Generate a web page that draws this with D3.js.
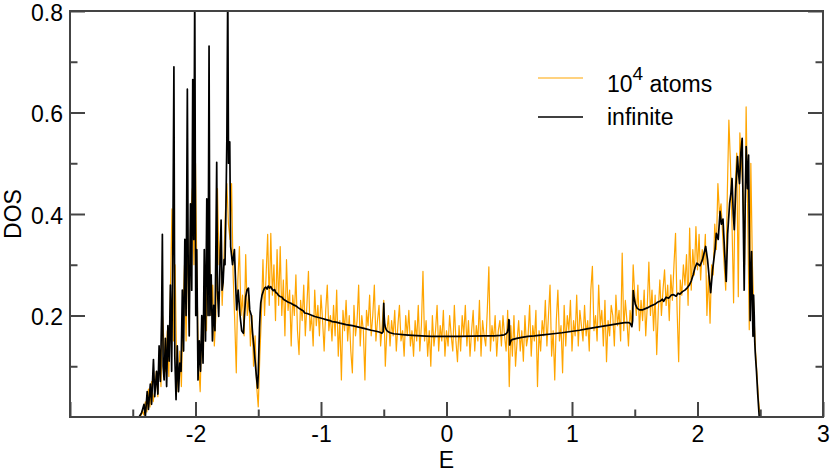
<!DOCTYPE html>
<html>
<head>
<meta charset="utf-8">
<script src="https://cdn.jsdelivr.net/npm/d3@7"></script>
<style>
  body { margin: 0; background: #fff; }
  svg { display: block; font-family: 'Liberation Sans', Arial, sans-serif; }
  .axis text { font-size: 23px; fill: #000; }
  .axis line { stroke: #444; stroke-width: 2; }
  .axis-label, .legend-text { font-size: 23px; fill: #000; }
</style>
</head>
<body>
<div id="chart"></div>
<script>
// finite cluster (10^4 atoms): histogram on a regular energy grid
const atomsStart = -2.5;
const atomsStep = 0.0125;
const atomsDOS = [
  0, 0, 0, 0, 0, 0, 0.012, 0.004,
  0.03, 0.01, 0.055, 0.02, 0.07, 0.03, 0.05, 0.09,
  0.04, 0.12, 0.06, 0.2, 0.14, 0.09, 0.17, 0.08,
  0.25, 0.41, 0.15, 0.3, 0.1, 0.05, 0.13, 0.06,
  0.2, 0.3, 0.15, 0.35, 0.22, 0.4, 0.45, 0.3,
  0.5, 0.25, 0.1, 0.05, 0.18, 0.12, 0.3, 0.17,
  0.4, 0.3, 0.2, 0.26, 0.14, 0.2, 0.45, 0.3,
  0.35, 0.22, 0.3, 0.4, 0.46, 0.38, 0.35, 0.46,
  0.28, 0.19, 0.087, 0.27, 0.336, 0.2, 0.24, 0.16,
  0.32, 0.2, 0.24, 0.14, 0.2, 0.1, 0.16, 0.06,
  0.02, 0.12, 0.2, 0.31, 0.2, 0.28, 0.36, 0.22,
  0.362, 0.24, 0.3, 0.19, 0.33, 0.22, 0.336, 0.2,
  0.27, 0.16, 0.31, 0.21, 0.25, 0.14, 0.24, 0.2,
  0.28, 0.17, 0.123, 0.23, 0.19, 0.26, 0.16, 0.22,
  0.287, 0.17, 0.2, 0.14, 0.25, 0.18, 0.22, 0.16,
  0.24, 0.19, 0.13, 0.21, 0.26, 0.17, 0.2, 0.15,
  0.22, 0.16, 0.25, 0.12, 0.19, 0.073, 0.21, 0.17,
  0.23, 0.15, 0.2, 0.13, 0.087, 0.22, 0.16, 0.19,
  0.26, 0.14, 0.2, 0.17, 0.073, 0.21, 0.18, 0.24,
  0.16, 0.2, 0.26, 0.15, 0.19, 0.22, 0.14, 0.18,
  0.23, 0.1, 0.17, 0.2, 0.14, 0.19, 0.16, 0.21,
  0.13, 0.18, 0.22, 0.15, 0.17, 0.12, 0.2, 0.16,
  0.21, 0.14, 0.17, 0.12, 0.19, 0.15, 0.22, 0.13,
  0.18, 0.287, 0.15, 0.19, 0.12, 0.17, 0.1, 0.2,
  0.14, 0.17, 0.22, 0.13, 0.18, 0.15, 0.21, 0.12,
  0.17, 0.14, 0.2, 0.16, 0.13, 0.22, 0.15, 0.109,
  0.18, 0.13, 0.2, 0.16, 0.22, 0.14, 0.19, 0.12,
  0.17, 0.21, 0.13, 0.18, 0.15, 0.23, 0.12, 0.19,
  0.16, 0.14, 0.21, 0.296, 0.13, 0.18, 0.15, 0.2,
  0.12, 0.17, 0.19, 0.14, 0.2, 0.16, 0.13, 0.21,
  0.06, 0.18, 0.12, 0.2, 0.1, 0.15, 0.19, 0.13,
  0.17, 0.11, 0.2, 0.14, 0.16, 0.22, 0.12, 0.18,
  0.15, 0.21, 0.06, 0.17, 0.13, 0.19, 0.16, 0.23,
  0.14, 0.2, 0.26, 0.12, 0.17, 0.073, 0.19, 0.25,
  0.15, 0.18, 0.087, 0.22, 0.14, 0.2, 0.17, 0.23,
  0.13, 0.19, 0.16, 0.24, 0.14, 0.21, 0.18, 0.15,
  0.22, 0.16, 0.19, 0.13, 0.25, 0.297, 0.17, 0.2,
  0.15, 0.26, 0.18, 0.21, 0.14, 0.23, 0.109, 0.19,
  0.16, 0.22, 0.2, 0.14, 0.24, 0.18, 0.21, 0.15,
  0.323, 0.17, 0.23, 0.19, 0.14, 0.21, 0.18, 0.3,
  0.24, 0.2, 0.26, 0.17, 0.23, 0.19, 0.25, 0.16,
  0.22, 0.305, 0.2, 0.25, 0.17, 0.24, 0.123, 0.21,
  0.27, 0.2, 0.25, 0.29, 0.22, 0.26, 0.19, 0.28,
  0.23, 0.3, 0.362, 0.21, 0.109, 0.27, 0.24, 0.3,
  0.26, 0.32, 0.22, 0.372, 0.25, 0.33, 0.28, 0.375,
  0.29, 0.36, 0.27, 0.33, 0.3, 0.36, 0.2, 0.28,
  0.185, 0.3, 0.28, 0.38, 0.33, 0.46, 0.4, 0.42,
  0.36, 0.3, 0.25, 0.44, 0.585, 0.5, 0.38, 0.225,
  0.45, 0.52, 0.237, 0.56, 0.5, 0.44, 0.3, 0.611,
  0.4, 0.172, 0.5, 0.3, 0.2, 0.13, 0.08, 0.03,
  0
];

// infinite system: [E, DOS]
const infiniteDOS = [
  [-2.45, 0], [-2.43, 0.008], [-2.41, 0.025], [-2.40, 0.0], [-2.385, 0.05], [-2.375, 0.015],
  [-2.36, 0.065], [-2.35, 0.025], [-2.335, 0.113], [-2.325, 0.04], [-2.31, 0.09], [-2.30, 0.045],
  [-2.29, 0.14], [-2.28, 0.07], [-2.27, 0.2], [-2.264, 0.36], [-2.258, 0.1], [-2.25, 0.073],
  [-2.24, 0.155], [-2.23, 0.06], [-2.22, 0.18], [-2.21, 0.11], [-2.20, 0.26], [-2.19, 0.09],
  [-2.18, 0.35], [-2.172, 0.69], [-2.165, 0.12], [-2.155, 0.034], [-2.145, 0.14], [-2.135, 0.05],
  [-2.125, 0.106], [-2.115, 0.09], [-2.105, 0.25], [-2.095, 0.13], [-2.085, 0.35], [-2.075, 0.2],
  [-2.065, 0.646], [-2.058, 0.28], [-2.05, 0.16], [-2.04, 0.42], [-2.03, 0.25], [-2.022, 0.665],
  [-2.014, 0.35], [-2.006, 0.85], [-1.998, 0.2], [-1.99, 0.33], [-1.98, 0.073], [-1.97, 0.15],
  [-1.96, 0.09], [-1.95, 0.2], [-1.94, 0.106], [-1.93, 0.33], [-1.92, 0.15], [-1.91, 0.43],
  [-1.90, 0.2], [-1.892, 0.731], [-1.885, 0.2], [-1.875, 0.28], [-1.865, 0.15], [-1.855, 0.22],
  [-1.845, 0.17], [-1.837, 0.35], [-1.831, 0.502], [-1.825, 0.25], [-1.815, 0.198], [-1.805, 0.3],
  [-1.796, 0.388], [-1.788, 0.25], [-1.78, 0.265], [-1.772, 0.31], [-1.765, 0.3], [-1.758, 0.4],
  [-1.75, 0.55], [-1.743, 0.85], [-1.737, 0.5], [-1.727, 0.542], [-1.72, 0.336], [-1.705, 0.3],
  [-1.69, 0.33], [-1.68, 0.26], [-1.672, 0.211], [-1.66, 0.25], [-1.645, 0.2], [-1.632, 0.17],
  [-1.618, 0.165], [-1.61, 0.2], [-1.60, 0.237], [-1.59, 0.25], [-1.578, 0.254], [-1.568, 0.211],
  [-1.555, 0.2], [-1.545, 0.165], [-1.535, 0.14], [-1.525, 0.11], [-1.515, 0.08], [-1.505, 0.057],
  [-1.50, 0.085], [-1.495, 0.13], [-1.49, 0.175], [-1.485, 0.205], [-1.48, 0.225], [-1.47, 0.24],
  [-1.46, 0.248], [-1.45, 0.254], [-1.44, 0.256], [-1.43, 0.252], [-1.42, 0.258], [-1.41, 0.254],
  [-1.40, 0.257], [-1.39, 0.252], [-1.38, 0.249], [-1.37, 0.251], [-1.36, 0.245], [-1.35, 0.244],
  [-1.34, 0.24], [-1.33, 0.238], [-1.31, 0.236], [-1.30, 0.232], [-1.28, 0.229], [-1.26, 0.226],
  [-1.24, 0.224], [-1.22, 0.221], [-1.20, 0.219], [-1.18, 0.215], [-1.16, 0.212], [-1.14, 0.209],
  [-1.13, 0.205], [-1.11, 0.204], [-1.08, 0.201], [-1.05, 0.198], [-1.02, 0.196], [-0.99, 0.194],
  [-0.96, 0.192], [-0.93, 0.19], [-0.91, 0.188], [-0.88, 0.187], [-0.85, 0.185], [-0.80, 0.182],
  [-0.75, 0.18], [-0.70, 0.177], [-0.65, 0.174], [-0.60, 0.171], [-0.56, 0.169], [-0.53, 0.167],
  [-0.515, 0.165], [-0.505, 0.168], [-0.50, 0.224], [-0.497, 0.2], [-0.493, 0.185], [-0.488, 0.177],
  [-0.48, 0.172], [-0.47, 0.169], [-0.45, 0.166], [-0.42, 0.164], [-0.38, 0.163], [-0.33, 0.162],
  [-0.27, 0.161], [-0.2, 0.16], [-0.12, 0.159], [-0.06, 0.1587], [0.02, 0.1587], [0.1, 0.159],
  [0.2, 0.1595], [0.3, 0.16], [0.38, 0.16], [0.43, 0.161], [0.46, 0.162], [0.475, 0.164],
  [0.485, 0.167], [0.492, 0.175], [0.497, 0.192], [0.50, 0.19], [0.503, 0.142], [0.508, 0.147],
  [0.515, 0.151], [0.53, 0.153], [0.56, 0.155], [0.6, 0.157], [0.65, 0.159], [0.7, 0.16],
  [0.77, 0.162], [0.85, 0.164], [0.92, 0.166], [0.99, 0.1685], [1.06, 0.171], [1.13, 0.174],
  [1.225, 0.178], [1.3, 0.181], [1.37, 0.184], [1.42, 0.186], [1.45, 0.186], [1.465, 0.184],
  [1.477, 0.178], [1.483, 0.19], [1.488, 0.249], [1.495, 0.235], [1.505, 0.222], [1.52, 0.214],
  [1.54, 0.211], [1.56, 0.211], [1.58, 0.213], [1.6, 0.215], [1.63, 0.219], [1.66, 0.222],
  [1.68, 0.226], [1.70, 0.228], [1.72, 0.232], [1.73, 0.228], [1.75, 0.236], [1.77, 0.234],
  [1.79, 0.24], [1.81, 0.241], [1.83, 0.238], [1.845, 0.244], [1.86, 0.242], [1.88, 0.247],
  [1.90, 0.25], [1.92, 0.255], [1.935, 0.26], [1.95, 0.268], [1.965, 0.28], [1.98, 0.294],
  [1.995, 0.303], [2.02, 0.298], [2.04, 0.31], [2.065, 0.336], [2.08, 0.31], [2.095, 0.27],
  [2.105, 0.245], [2.12, 0.29], [2.14, 0.33], [2.15, 0.362], [2.165, 0.35], [2.18, 0.405],
  [2.19, 0.38], [2.203, 0.39], [2.215, 0.33], [2.229, 0.267], [2.24, 0.36], [2.256, 0.421],
  [2.266, 0.44], [2.275, 0.47], [2.285, 0.4], [2.293, 0.369], [2.305, 0.45], [2.319, 0.513],
  [2.327, 0.48], [2.335, 0.46], [2.345, 0.52], [2.356, 0.549], [2.364, 0.4], [2.372, 0.25],
  [2.38, 0.42], [2.388, 0.533], [2.398, 0.45], [2.407, 0.516], [2.414, 0.33], [2.420, 0.19],
  [2.426, 0.28], [2.431, 0.326], [2.437, 0.22], [2.442, 0.159], [2.447, 0.24], [2.452, 0.2],
  [2.456, 0.15], [2.46, 0.127], [2.47, 0.09], [2.48, 0.045], [2.492, 0]
];

const xTicks = [-3, -2, -1, 0, 1, 2, 3];
const xMinorTicks = [-2.5, -1.5, -0.5, 0.5, 1.5, 2.5];
const yTicks = [0.2, 0.4, 0.6, 0.8];
const yMinorTicks = [0.1, 0.3, 0.5, 0.7];

const margin = { top: 11, right: 7, bottom: 55, left: 70 };
const containerWidth = 830;
const containerHeight = 472;
const width = containerWidth - margin.left - margin.right;
const height = containerHeight - margin.top - margin.bottom;

const svg = d3.select('#chart').append('svg')
  .attr('width', containerWidth)
  .attr('height', containerHeight);

const chart = svg.append('g')
  .attr('transform', `translate(${margin.left},${margin.top})`);

const xScale = d3.scaleLinear().domain([-3, 3]).range([0, width]);
const yScale = d3.scaleLinear().domain([0, 0.8]).range([height, 0]);

chart.append('clipPath')
  .attr('id', 'plot-clip')
  .append('rect')
  .attr('width', width)
  .attr('height', height);

const atomsData = atomsDOS.map((v, i) => [atomsStart + i * atomsStep, v]);

const line = d3.line()
  .x(d => xScale(d[0]))
  .y(d => yScale(d[1]));

const plot = chart.append('g').attr('clip-path', 'url(#plot-clip)');

plot.append('path')
  .datum(atomsData)
  .attr('fill', 'none')
  .attr('stroke', '#ffa500')
  .attr('stroke-width', 1.2)
  .attr('stroke-linejoin', 'round')
  .attr('d', line);

plot.append('path')
  .datum(infiniteDOS)
  .attr('fill', 'none')
  .attr('stroke', '#000')
  .attr('stroke-width', 1.7)
  .attr('stroke-linejoin', 'round')
  .attr('d', line);

// axes: ticks point inward, no ticks on top
chart.append('g')
  .attr('class', 'axis x-axis')
  .attr('transform', `translate(0,${height})`)
  .call(d3.axisBottom(xScale).tickValues(xTicks).tickSize(-15).tickPadding(9)
    .tickFormat(d => d === -3 ? '' : String(d)))
  .call(g => g.select('.domain').remove());

chart.append('g')
  .attr('class', 'axis x-axis')
  .attr('transform', `translate(0,${height})`)
  .call(d3.axisBottom(xScale).tickValues(xMinorTicks).tickSize(-7.5).tickFormat(''))
  .call(g => g.select('.domain').remove());

chart.append('g')
  .attr('class', 'axis y-axis')
  .call(d3.axisLeft(yScale).tickValues(yTicks).tickSize(-15).tickPadding(7)
    .tickFormat(d3.format('.1f')))
  .call(g => g.select('.domain').remove())
  .call(g => g.selectAll('text').attr('dy', '0.4em'));

chart.append('g')
  .attr('class', 'axis y-axis')
  .call(d3.axisLeft(yScale).tickValues(yMinorTicks).tickSize(-7.5).tickFormat(''))
  .call(g => g.select('.domain').remove());

chart.append('g')
  .attr('class', 'axis y-axis')
  .attr('transform', `translate(${width},0)`)
  .call(d3.axisRight(yScale).tickValues(yTicks).tickSize(-15).tickFormat(''))
  .call(g => g.select('.domain').remove());

chart.append('g')
  .attr('class', 'axis y-axis')
  .attr('transform', `translate(${width},0)`)
  .call(d3.axisRight(yScale).tickValues(yMinorTicks).tickSize(-7.5).tickFormat(''))
  .call(g => g.select('.domain').remove());

chart.append('rect')
  .attr('width', width)
  .attr('height', height)
  .attr('fill', 'none')
  .attr('stroke', '#444')
  .attr('stroke-width', 2);

chart.append('text')
  .attr('class', 'axis-label')
  .attr('text-anchor', 'middle')
  .attr('x', width / 2)
  .attr('y', height + 51)
  .text('E');

chart.append('text')
  .attr('class', 'axis-label')
  .attr('text-anchor', 'middle')
  .attr('transform', 'rotate(-90)')
  .attr('x', -height / 2)
  .attr('y', -49)
  .text('DOS');

// legend
const legend = svg.append('g');
const legendItems = [
  { color: '#ffa500', width: 1.2, y: 78 },
  { color: '#000', width: 1.7, y: 117 }
];
legend.selectAll('line')
  .data(legendItems)
  .join('line')
  .attr('x1', 538)
  .attr('x2', 583)
  .attr('y1', d => d.y)
  .attr('y2', d => d.y)
  .attr('stroke', d => d.color)
  .attr('stroke-width', d => d.width);

const atomsLabel = legend.append('text')
  .attr('class', 'legend-text')
  .attr('x', 607)
  .attr('y', 92);
atomsLabel.append('tspan').text('10');
atomsLabel.append('tspan').attr('dy', -12).style('font-size', '19px').text('4');
atomsLabel.append('tspan').attr('dy', 12).text(' atoms');

legend.append('text')
  .attr('class', 'legend-text')
  .attr('x', 607)
  .attr('y', 125)
  .text('infinite');
</script>
</body>
</html>
